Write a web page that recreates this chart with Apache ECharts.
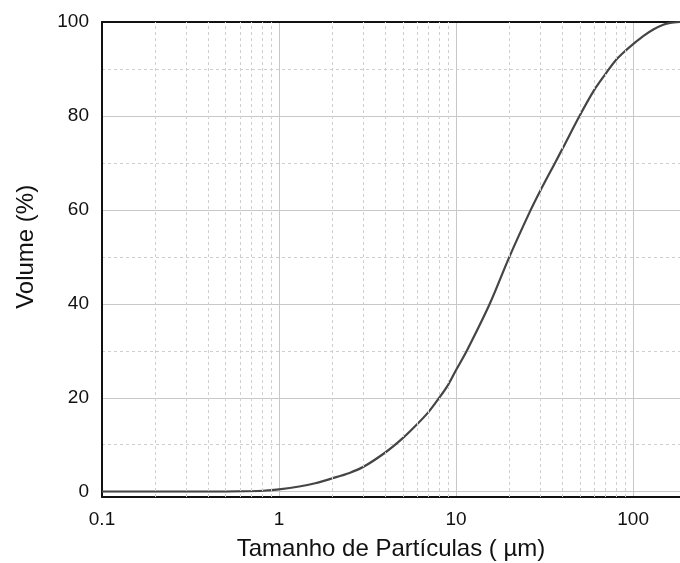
<!DOCTYPE html>
<html>
<head>
<meta charset="utf-8">
<script src="https://cdn.jsdelivr.net/npm/echarts@6/dist/echarts.min.js"></script>
<style>
    html, body { margin: 0; padding: 0; background: #fff; }
    #chart { width: 680px; height: 563px; }
</style>
</head>
<body>
<div id="chart"></div>
<script>
// tamanho de partícula (µm) e volume acumulado (%)
let sizes = [0.1, 0.3, 0.5, 0.68, 0.81, 1, 1.3, 1.6, 2, 2.5, 3, 4, 5, 6, 7, 8, 9, 10,
    11.5, 15.5, 20, 26.4, 30, 36.2, 40, 49.8, 60, 70, 80, 90, 100, 114, 130, 148, 162, 184];
let volume = [0, 0, 0.02, 0.1, 0.2, 0.5, 1.1, 1.8, 2.85, 4.0, 5.3, 8.4, 11.4, 14.3, 17.0, 19.9, 22.7, 25.9,
    30, 40, 50, 60, 64.2, 70, 73.1, 80, 85.4, 89.0, 91.9, 93.8, 95.3, 97.0, 98.4, 99.4, 99.8, 100];
let minorX = [0.2, 0.3, 0.4, 0.5, 0.6, 0.7, 0.8, 0.9, 2, 3, 4, 5, 6, 7, 8, 9, 20, 30, 40, 50, 60, 70, 80, 90];
let xMin = 0.1, xMax = 184;

let font = "'Liberation Sans', Arial, sans-serif";
let myChart = echarts.init(document.getElementById("chart"));

let option = {
    animation: false,
    grid: [
        // moldura + linhas verticais
        { left: 102, right: 0, top: 22, bottom: 66, outerBoundsMode: 'none', containLabel: false },
        // dados
        { left: 102, right: 0, top: 22, bottom: 71.3, outerBoundsMode: 'none', containLabel: false }
    ],
    xAxis: [{
        type: 'log', gridIndex: 0, min: xMin, max: xMax, logBase: 10,
        axisLine: { lineStyle: { color: '#111', width: 2 } },
        axisTick: { show: false },
        axisLabel: { color: '#111', fontSize: 19, fontFamily: font, margin: 13, showMaxLabel: false },
        splitLine: { show: true, lineStyle: { color: '#c8c8c8', width: 1 } },
        name: 'Tamanho de Partículas ( µm)', nameLocation: 'middle', nameGap: 40,
        nameTextStyle: { color: '#111', fontSize: 24, fontFamily: font }
    }, {
        type: 'log', gridIndex: 0, min: xMin, max: xMax, position: 'top',
        axisLine: { lineStyle: { color: '#111', width: 2 } },
        axisTick: { show: false }, axisLabel: { show: false }, splitLine: { show: false }
    }, {
        type: 'log', gridIndex: 1, min: xMin, max: xMax, show: false
    }],
    yAxis: [{
        type: 'value', gridIndex: 0, min: 0, max: 1,
        axisLine: { show: true, lineStyle: { color: '#111', width: 2 } },
        axisTick: { show: false }, axisLabel: { show: false }, splitLine: { show: false }
    }, {
        type: 'value', gridIndex: 1, min: 0, max: 100, interval: 20,
        axisLine: { show: false }, axisTick: { show: false },
        axisLabel: { color: '#111', fontSize: 19, fontFamily: font, margin: 13 },
        splitLine: { show: true, lineStyle: { color: '#c8c8c8', width: 1 } },
        minorTick: { show: false, splitNumber: 2 },
        minorSplitLine: { show: true, lineStyle: { color: '#cfcfcf', width: 1, type: [3, 3] } },
        name: 'Volume (%)', nameLocation: 'middle', nameGap: 64,
        nameTextStyle: { color: '#111', fontSize: 24, fontFamily: font, padding: [0, 0, 0, 20] }
    }],
    series: [{
        type: 'line', xAxisIndex: 0, yAxisIndex: 0, data: [],
        silent: true,
        markLine: {
            silent: true, symbol: 'none', animation: false,
            label: { show: false },
            lineStyle: { color: '#cfcfcf', width: 1, type: [3, 3] },
            data: minorX.map(v => ({ xAxis: v }))
        }
    }, {
        type: 'line', xAxisIndex: 2, yAxisIndex: 1,
        data: sizes.map((s, i) => [s, volume[i]]),
        smooth: 0.3, showSymbol: false,
        lineStyle: { color: '#454545', width: 2.2 }
    }]
};
myChart.setOption(option);
</script>
</body>
</html>
